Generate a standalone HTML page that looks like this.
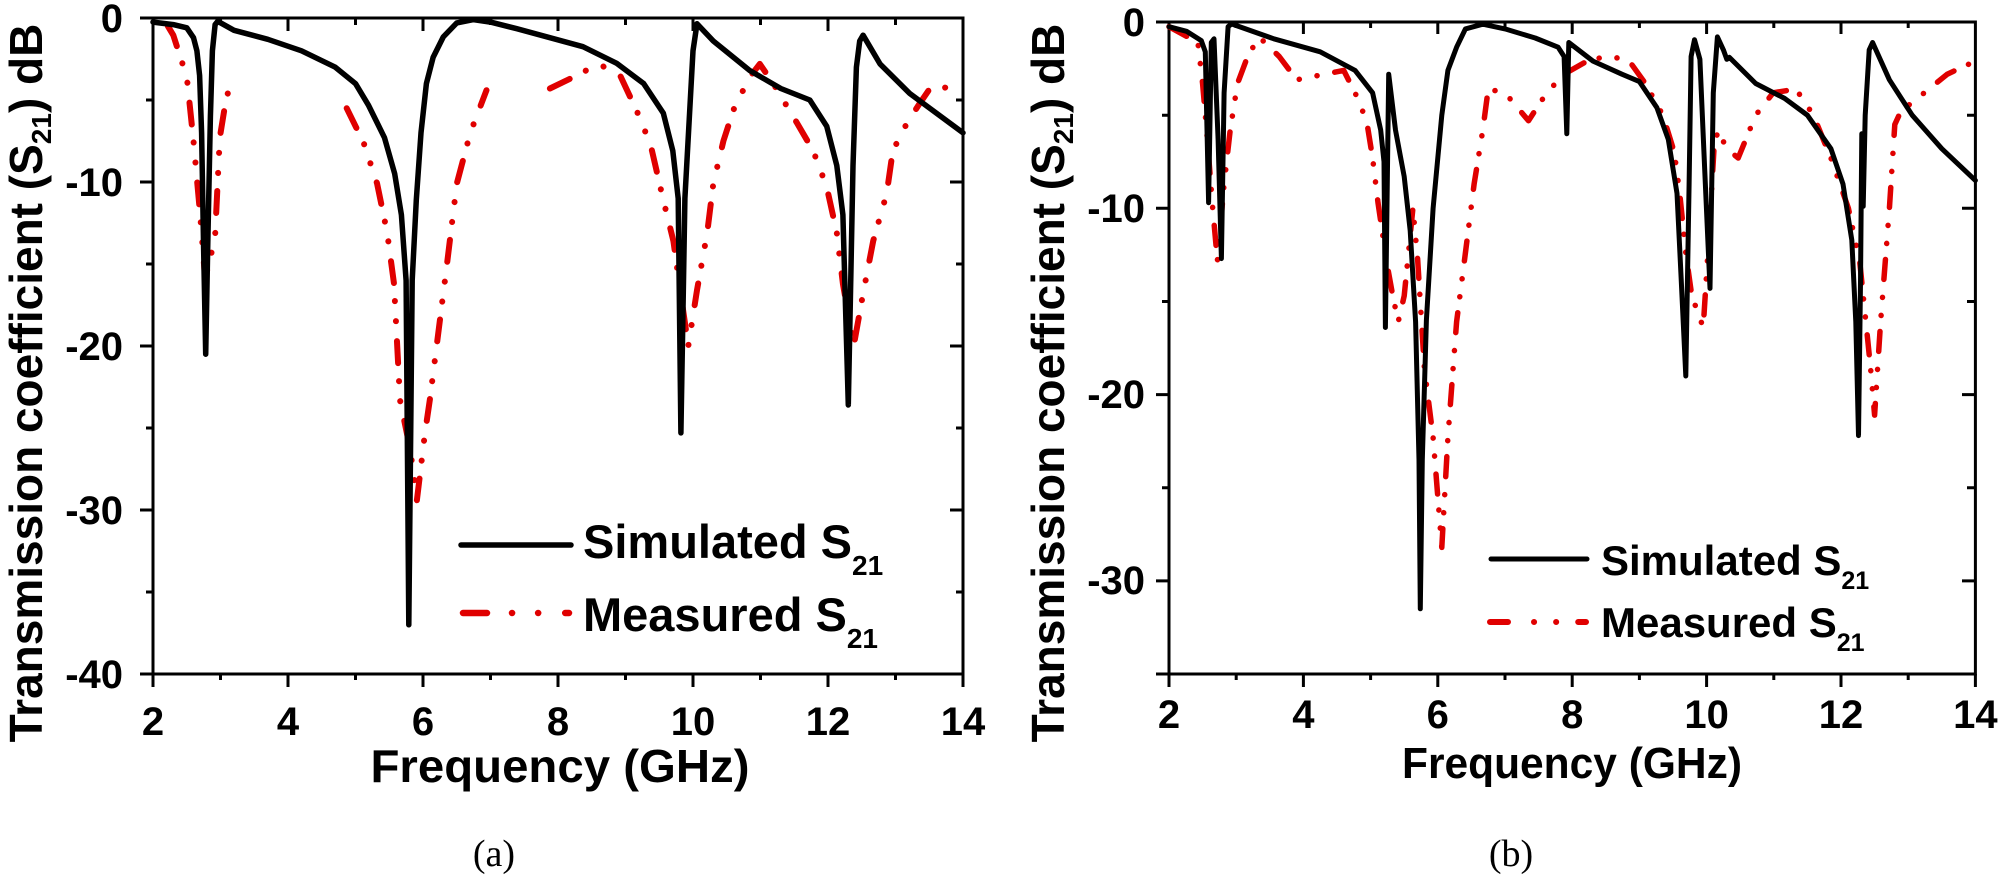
<!DOCTYPE html>
<html>
<head>
<meta charset="utf-8">
<style>
  html,body{margin:0;padding:0;background:#fff;}
  svg{display:block;}
  text{font-family:"Liberation Sans",Arial,sans-serif;font-weight:bold;fill:#000;}
  .serif{font-family:"Liberation Serif","Times New Roman",serif;font-weight:normal;}
</style>
</head>
<body>
<svg width="2008" height="876" viewBox="0 0 2008 876" xmlns="http://www.w3.org/2000/svg">
  <rect x="0" y="0" width="2008" height="876" fill="#fff"/>

  <!-- ================= PLOT (a) ================= -->
  <g fill="none" stroke="#000" stroke-width="3" stroke-linecap="butt">
    <rect x="153" y="18" width="810" height="656"/>
    <!-- left axis ticks (outward) -->
    <path d="M140,18H153M140,182H153M140,346H153M140,510H153M140,674H153
             M146,100H153M146,264H153M146,428H153M146,592H153"/>
    <!-- right axis ticks (inward) -->
    <path d="M950,182H963M950,346H963M950,510H963
             M956,100H963M956,264H963M956,428H963M956,592H963"/>
    <!-- bottom ticks (outward) -->
    <path d="M153,674V687M288,674V687M423,674V687M558,674V687M693,674V687M828,674V687M963,674V687
             M220.5,674V680M355.5,674V680M490.5,674V680M625.5,674V680M760.5,674V680M895.5,674V680"/>
    <!-- top ticks (inward) -->
    <path d="M288,18V31M423,18V31M558,18V31M693,18V31M828,18V31
             M220.5,18V25M355.5,18V25M490.5,18V25M625.5,18V25M760.5,18V25M895.5,18V25"/>
  </g>

  <!-- measured (a) -->
  <g fill="none" stroke="#e00000" stroke-width="6" stroke-linecap="round" stroke-linejoin="round" stroke-dasharray="22 18 0.1 20 0.1 20">
    <path d="M167.9,26.2 L173.3,35.2 L186.8,77 L193.5,141 L200.3,216.4 L205,277.1 L209,264 L215.1,236.1 L219.8,137.7 L225.9,100 L230.6,83.6"/>
    <path d="M346.7,108.2 L363.6,142.6 L377.1,183.6 L387.2,232.8 L394,283.7 L400,400.1 L410.2,449.3 L416.9,500.2 L425,432.9 L429.8,400.1 L446.6,267.3 L456.8,183.6 L470.3,132.8 L486.5,90.2"/>
    <path d="M549.9,88.5 L576.9,75.4 L598.5,63.9 L620.1,75.4 L637,111.5 L650.5,144.3 L663.3,200 L673.4,241 L680.2,290.2 L688.3,346 L697,290.2 L707.2,232.8 L713.3,183.6 L723.4,141 L733.5,109.8 L749.7,77 L759.8,63.9 L773.3,83.6 L797,123 L813.2,150.8 L826.7,186.9 L836.8,232.8 L842.9,283.7 L853.7,346 L863.1,293.5 L873.2,241 L886.7,193.5 L892.8,150.8 L907,123 L919.8,103.3 L929.9,88.5 L956.3,86.9 L963,86.9"/>
  </g>

  <!-- simulated (a) -->
  <path fill="none" stroke="#000" stroke-width="5.5" stroke-linejoin="round" stroke-linecap="round"
    d="M153,22.1 L173.3,24.6 L186.8,27.8 L193.5,37.7 L196.9,50.8 L199.6,75.4 L201.6,132.8 L203.6,247.6 L205.7,354.2 L207.7,247.6 L210.4,116.4 L212.4,50.8 L215.1,24.6 L217.8,21.3 L234,30.3 L267.8,39.3 L301.5,50.8 L335.3,67.2 L355.5,83.6 L368.3,104.9 L384.5,137.7 L394.7,173.8 L401.4,214.8 L406.1,280.4 L408.8,624.8 L412.2,280.4 L416.3,200 L421,132.8 L426.4,83.6 L433.1,57.4 L443.3,36.9 L456.8,22.9 L473.6,19.6 L490.5,22.1 L516.8,28.7 L583,46.7 L616.7,63.3 L643.7,83.6 L663.3,113.1 L672.8,150.8 L678.2,198.4 L680.9,432.9 L684.9,198.4 L690.3,100 L693,50.8 L697,23.7 L713.3,41 L749.7,70.5 L780.8,88.5 L809.8,100 L826.7,126.2 L836.8,165.6 L842.9,214.8 L848.3,405 L853,165.6 L856.4,67.2 L859.7,41 L863.1,35.2 L880,63.9 L909.7,93.4 L963,132.8"/>

  <!-- tick labels (a) -->
  <g font-size="40" text-anchor="end">
    <text x="123" y="32">0</text>
    <text x="123" y="196">-10</text>
    <text x="123" y="360">-20</text>
    <text x="123" y="524">-30</text>
    <text x="123" y="688">-40</text>
  </g>
  <g font-size="40" text-anchor="middle">
    <text x="153" y="735">2</text>
    <text x="288" y="735">4</text>
    <text x="423" y="735">6</text>
    <text x="558" y="735">8</text>
    <text x="693" y="735">10</text>
    <text x="828" y="735">12</text>
    <text x="963" y="735">14</text>
  </g>
  <text x="560" y="782" font-size="46" text-anchor="middle" textLength="379" lengthAdjust="spacingAndGlyphs">Frequency (GHz)</text>
  <text transform="translate(42,383) rotate(-90)" font-size="46" text-anchor="middle">Transmission coefficient (S<tspan font-size="28" dy="9">21</tspan><tspan dy="-9">) dB</tspan></text>

  <!-- legend (a) -->
  <line x1="461" y1="545" x2="571" y2="545" stroke="#000" stroke-width="5.5" stroke-linecap="round"/>
  <line x1="463" y1="613" x2="569" y2="613" stroke="#e00000" stroke-width="6.5" stroke-linecap="round" stroke-dasharray="24 25 0.1 26 0.1 27"/>
  <text x="583" y="558" font-size="47">Simulated S<tspan font-size="28" dy="17">21</tspan></text>
  <text x="583" y="631" font-size="47">Measured S<tspan font-size="28" dy="17">21</tspan></text>

  <text class="serif" x="494" y="866" font-size="38" text-anchor="middle">(a)</text>

  <!-- ================= PLOT (b) ================= -->
  <g fill="none" stroke="#000" stroke-width="3" stroke-linecap="butt">
    <rect x="1169" y="22" width="806.4" height="652"/>
    <path d="M1156,22H1169M1156,208.3H1169M1156,394.6H1169M1156,580.9H1169M1156,674H1169
             M1162,115.2H1169M1162,301.5H1169M1162,487.8H1169"/>
    <path d="M1962,208.3H1975.4M1962,394.6H1975.4M1962,580.9H1975.4
             M1967,115.2H1975.4M1967,301.5H1975.4M1967,487.8H1975.4"/>
    <path d="M1169,674V687M1303.4,674V687M1437.8,674V687M1572.2,674V687M1706.6,674V687M1841,674V687M1975.4,674V687
             M1236.2,674V680M1370.6,674V680M1505,674V680M1639.4,674V680M1773.8,674V680M1908.2,674V680"/>
    <path d="M1303.4,22V34M1437.8,22V34M1572.2,22V34M1706.6,22V34M1841,22V34
             M1236.2,22V28M1370.6,22V28M1505,22V28M1639.4,22V28M1773.8,22V28M1908.2,22V28"/>
  </g>

  <!-- measured (b) -->
  <path fill="none" stroke="#e00000" stroke-width="5.5" stroke-linecap="round" stroke-linejoin="round" stroke-dasharray="20 16 0.1 18 0.1 18"
    d="M1169,26.7 L1197.9,42.5 L1202.6,83.5 L1206.6,130.1 L1212.7,208.3 L1217.4,260.5 L1224.1,184.1 L1230.2,130.1 L1237.5,83.5 L1247.6,56.5 L1259,36.9 L1279.2,56.5 L1296.7,79.8 L1343.7,70.4 L1355.1,92.8 L1366.6,120.7 L1372.6,158 L1378,202.7 L1386.7,262.3 L1392.8,295.9 L1398.2,321.9 L1404.2,295.9 L1412.9,208.3 L1417.6,258.6 L1424.4,368.5 L1433.1,437.4 L1441.8,547.4 L1447.9,437.4 L1456.6,321.9 L1465.4,253 L1474.1,184.1 L1482.8,130.1 L1488.2,89.1 L1505,92.8 L1528.5,120.7 L1546.7,92.8 L1564.1,74.2 L1587,61.1 L1605.8,56.5 L1628,59.3 L1645.4,83.5 L1662.9,115.2 L1674.3,152.4 L1679.7,193.4 L1685.8,253 L1691.8,295.9 L1697.9,312.6 L1703.2,327.5 L1709.3,230.7 L1714,148.7 L1718,130.1 L1726.8,148.7 L1738.2,158 L1755.7,115.2 L1773.1,92.8 L1796,89.1 L1813.4,115.2 L1830.9,158 L1848.4,208.3 L1859.8,262.3 L1865.9,321.9 L1870.6,368.5 L1874.6,415.1 L1880.6,321.9 L1889.4,208.3 L1894.8,124.5 L1900.8,111.4 L1924.3,92.8 L1947.2,74.2 L1975.4,61.1"/>

  <!-- simulated (b) -->
  <path fill="none" stroke="#000" stroke-width="5" stroke-linejoin="round" stroke-linecap="round"
    d="M1169,26.7 L1186.5,31.3 L1201.3,40.6 L1205.3,51.8 L1208.6,202.7 L1211.3,42.5 L1214,38.8 L1218.1,139.4 L1221.4,258.6 L1224.1,92.8 L1228.1,26.7 L1231.5,23.9 L1273.8,38.8 L1320.2,51.8 L1355.1,70.4 L1372.6,92.8 L1380.7,130.1 L1384,161.7 L1385.4,327.5 L1388.7,74.2 L1395.5,130.1 L1404.2,176.6 L1410.2,230.7 L1415.6,321.9 L1419,459.8 L1420.3,608.8 L1422.3,459.8 L1426.4,320.1 L1433.1,208.3 L1441.8,115.2 L1447.9,70.4 L1456.6,47.2 L1465.4,28.9 L1482.8,24.2 L1505,28.9 L1535.2,38 L1558.1,47.2 L1564.1,56.5 L1566.8,133.8 L1568.8,42.5 L1593,61.1 L1621.9,74.2 L1639.4,81.6 L1656.9,107.7 L1668.3,139.4 L1677,193.4 L1681.1,277.2 L1685.8,376 L1689.1,184.1 L1691.1,56.5 L1694.5,39.7 L1699.9,59.3 L1704.6,167.3 L1710,288.4 L1713.3,92.8 L1717.4,36.9 L1723.4,49.9 L1726.8,59.3 L1729.4,57.4 L1755.7,83.5 L1784.6,98.4 L1807.4,115.2 L1830.9,148.7 L1843,184.1 L1851.8,240 L1855.8,321.9 L1858.5,435.6 L1860.5,282.8 L1861.8,133.8 L1863.2,206.4 L1865.2,115.2 L1869.2,49.9 L1872.6,42.5 L1889.4,79.8 L1912.2,115.2 L1941.8,148.7 L1975.4,180.4"/>

  <!-- tick labels (b) -->
  <g font-size="40" text-anchor="end">
    <text x="1145" y="36">0</text>
    <text x="1145" y="222">-10</text>
    <text x="1145" y="408">-20</text>
    <text x="1145" y="594">-30</text>
  </g>
  <g font-size="40" text-anchor="middle">
    <text x="1169" y="728">2</text>
    <text x="1303.4" y="728">4</text>
    <text x="1437.8" y="728">6</text>
    <text x="1572.2" y="728">8</text>
    <text x="1706.6" y="728">10</text>
    <text x="1841" y="728">12</text>
    <text x="1975.4" y="728">14</text>
  </g>
  <text x="1572" y="778" font-size="44" text-anchor="middle" textLength="340" lengthAdjust="spacingAndGlyphs">Frequency (GHz)</text>
  <text transform="translate(1064,383) rotate(-90)" font-size="46" text-anchor="middle">Transmission coefficient (S<tspan font-size="28" dy="9">21</tspan><tspan dy="-9">) dB</tspan></text>

  <!-- legend (b) -->
  <line x1="1491" y1="559" x2="1587" y2="559" stroke="#000" stroke-width="5" stroke-linecap="round"/>
  <line x1="1490" y1="622" x2="1586" y2="622" stroke="#e00000" stroke-width="6" stroke-linecap="round" stroke-dasharray="18 26 0.1 22 0.1 22"/>
  <text x="1601" y="575" font-size="42">Simulated S<tspan font-size="25" dy="14">21</tspan></text>
  <text x="1601" y="637" font-size="42">Measured S<tspan font-size="25" dy="14">21</tspan></text>

  <text class="serif" x="1511" y="866" font-size="38" text-anchor="middle">(b)</text>
</svg>
</body>
</html>
